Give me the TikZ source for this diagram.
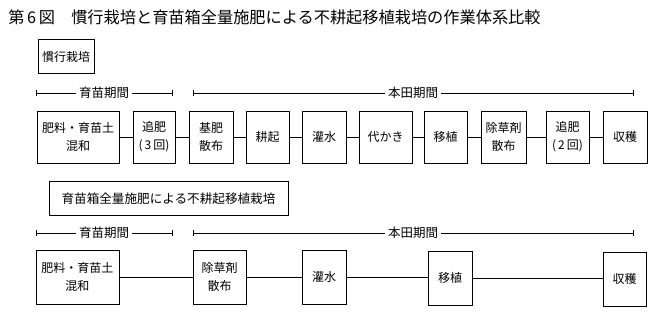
\documentclass[tikz,border=0pt]{standalone}
\usepackage{fontspec}
\setmainfont{Noto Sans CJK JP}
\usetikzlibrary{arrows.meta, positioning}

\begin{document}
\begin{tikzpicture}[
    x=1pt, y=-1pt,
    line width=0.6pt,
    font=\fontsize{12}{18}\selectfont,
    >={Bar[width=6pt]}
]
    \tikzset{
        caja/.style={draw, minimum height=52pt, inner sep=0pt, align=center},
        sistema/.style={draw, minimum height=34pt, inner sep=0pt},
        periodo/.style={inner sep=3pt, font=\fontsize{12.5}{14}\selectfont},
        tramo/.style={line width=0.5pt}
    }
    \useasboundingbox (0,0) rectangle (662,321);

    % Titulo
    \node[anchor=west, inner sep=0pt, font=\fontsize{16.2}{18}\selectfont] (fig) at (8,17)
        {第\,6\,図\quad 慣行栽培と育苗箱全量施肥による不耕起移植栽培の作業体系比較};

    % 慣行栽培
    \node[sistema, minimum width=56pt] (kanko) at (66,56.5) {慣行栽培};

    \coordinate (ik1a) at (36,93);
    \coordinate (ik1b) at (172,93);
    \node[periodo] (ik1) at (104,93) {育苗期間};
    \coordinate (hd1a) at (193,93);
    \coordinate (hd1b) at (633,93);
    \node[periodo] (hd1) at (413,93) {本田期間};

    \node[caja, minimum width=82pt] (konwa1)  at (78,137)    {肥料・育苗土\\混和};
    \node[caja, minimum width=42pt] (tsuihi3) at (154,137)   {追肥\\(\,3\,回)};
    \node[caja, minimum width=44pt] (kihi)    at (211,137)   {基肥\\散布};
    \node[caja, minimum width=43pt] (kouki)   at (267.5,137) {耕起};
    \node[caja, minimum width=44pt] (kansui1) at (324,137)   {灌水};
    \node[caja, minimum width=53pt] (shiro)   at (385.5,137) {代かき};
    \node[caja, minimum width=43pt] (ishoku1) at (445.5,137) {移植};
    \node[caja, minimum width=45pt] (josou1)  at (503.5,137) {除草剤\\散布};
    \node[caja, minimum width=43pt] (tsuihi2) at (567.5,137) {追肥\\(\,2\,回)};
    \node[caja, minimum width=44pt] (shuk1)   at (625,137)   {収穫};

    % 不耕起移植栽培
    \node[sistema, minimum width=239pt, font=\fontsize{12.6}{14}\selectfont] (fuko) at (168.5,198.5)
        {育苗箱全量施肥による不耕起移植栽培};

    \coordinate (ik2a) at (36,233);
    \coordinate (ik2b) at (172,233);
    \node[periodo] (ik2) at (104,233) {育苗期間};
    \coordinate (hd2a) at (193,233);
    \coordinate (hd2b) at (633,233);
    \node[periodo] (hd2) at (413,233) {本田期間};

    \node[caja, minimum width=83pt, minimum height=54pt] (konwa2)  at (77.5,277) {肥料・育苗土\\混和};
    \node[caja, minimum width=53pt, minimum height=54pt] (josou2)  at (219.5,277) {除草剤\\散布};
    \node[caja, minimum width=44pt, minimum height=54pt] (kansui2) at (324,277) {灌水};
    \node[caja, minimum width=44pt, minimum height=54pt] (ishoku2) at (450,278) {移植};
    \node[caja, minimum width=43pt, minimum height=54pt] (shuk2)   at (624.5,279) {収穫};

    % Periodos
    \draw[tramo, >-] (ik1a) -- (ik1.west);
    \draw[tramo, ->] (ik1.east) -- (ik1b);
    \draw[tramo, >-] (hd1a) -- (hd1.west);
    \draw[tramo, ->] (hd1.east) -- (hd1b);
    \draw[tramo, >-] (ik2a) -- (ik2.west);
    \draw[tramo, ->] (ik2.east) -- (ik2b);
    \draw[tramo, >-] (hd2a) -- (hd2.west);
    \draw[tramo, ->] (hd2.east) -- (hd2b);

    % Enlaces
    \draw (konwa1) -- (tsuihi3);
    \draw (tsuihi3) -- (kihi);
    \draw (kihi) -- (kouki);
    \draw (kouki) -- (kansui1);
    \draw (kansui1) -- (shiro);
    \draw (shiro) -- (ishoku1);
    \draw (ishoku1) -- (josou1);
    \draw (josou1) -- (tsuihi2);
    \draw (tsuihi2) -- (shuk1);
    \draw (konwa2) -- (josou2);
    \draw (josou2) -- (kansui2);
    \draw (kansui2) -- (ishoku2.west |- kansui2.east);
    \draw (ishoku2) -- (shuk2.west |- ishoku2.east);
\end{tikzpicture}
\end{document}
